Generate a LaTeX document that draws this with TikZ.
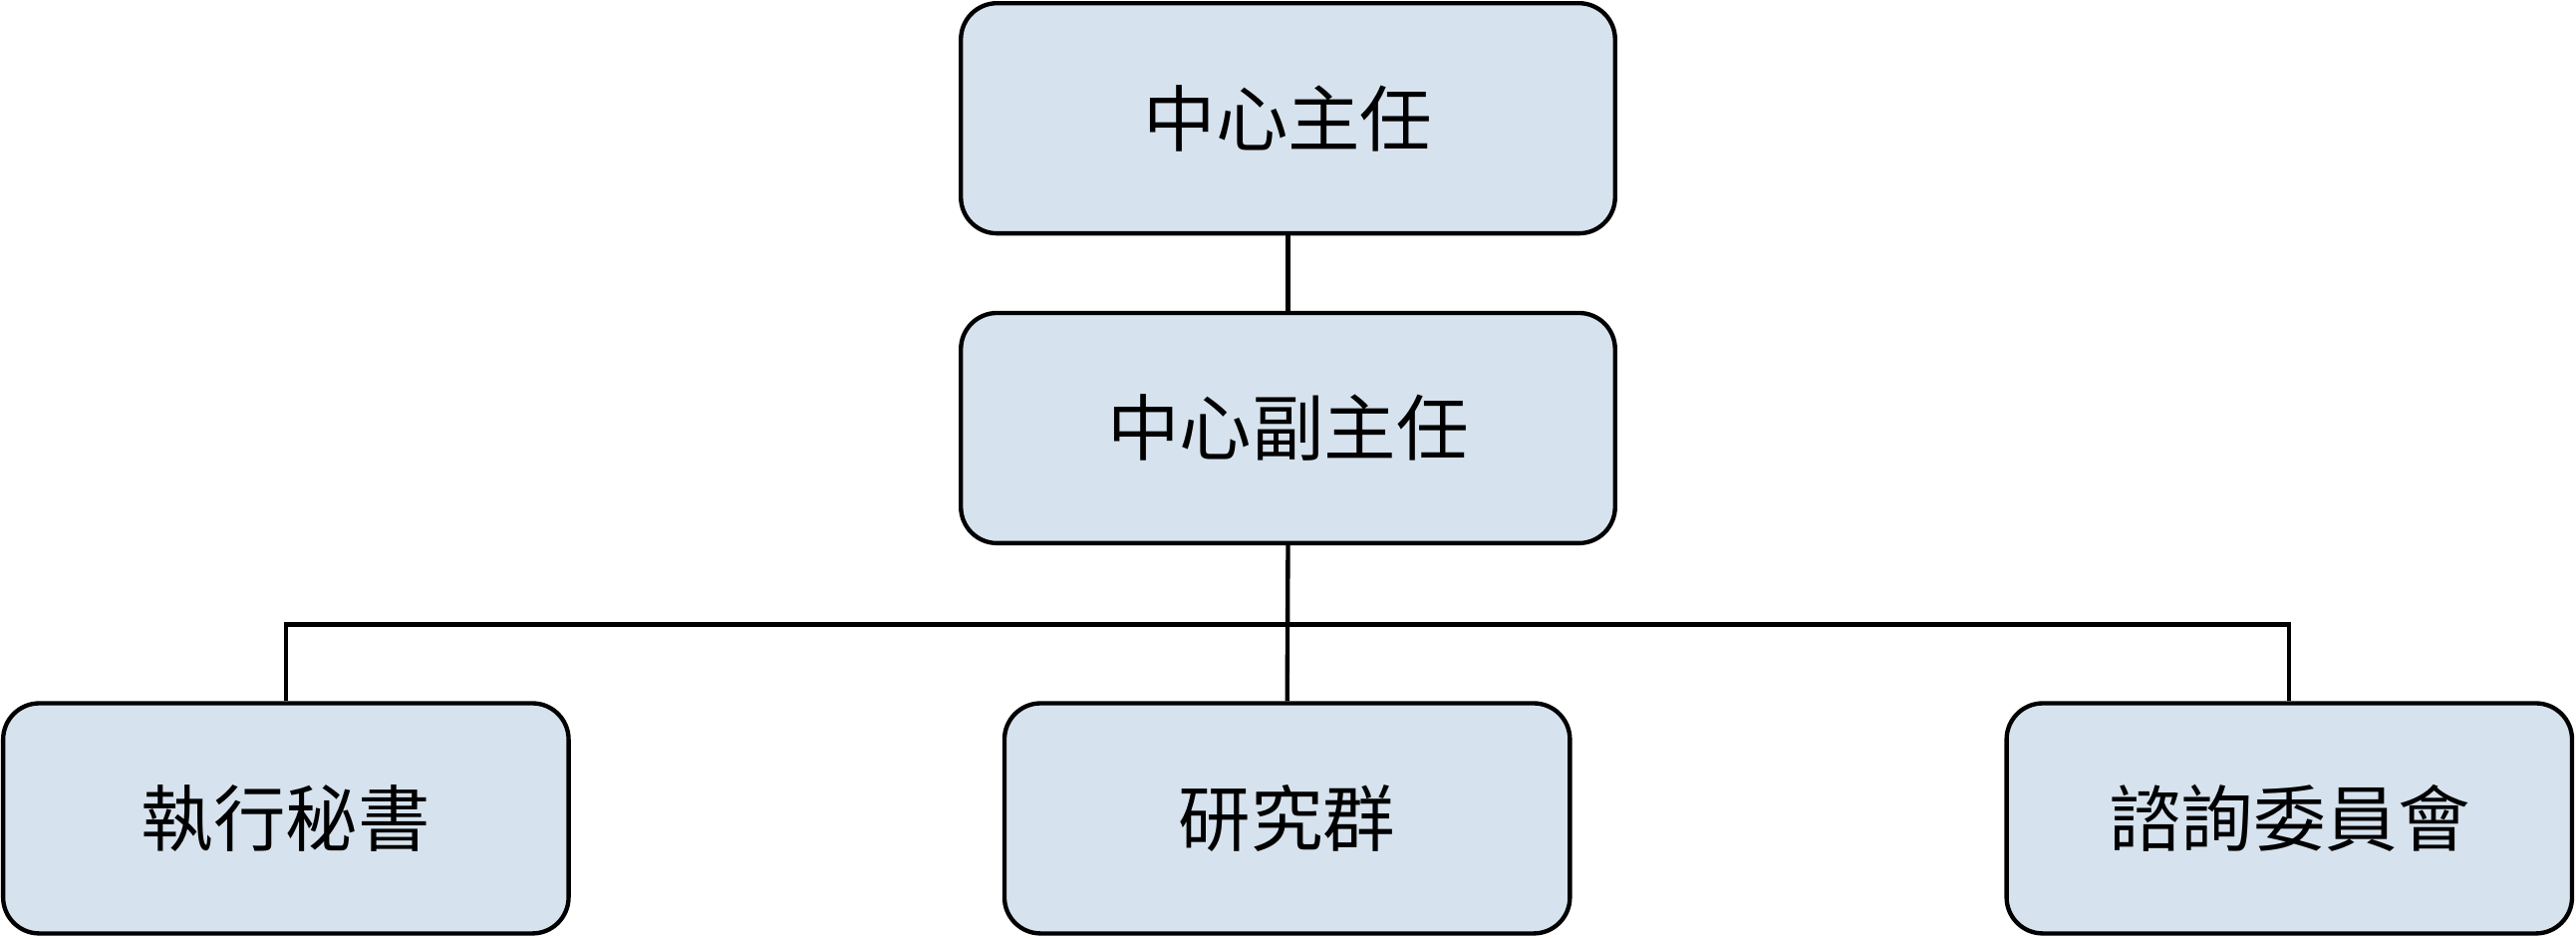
\documentclass[tikz,border=0pt]{standalone}
\usepackage{fontspec}
\newfontfamily\cjk{Noto Sans CJK TC}
\begin{document}
\begin{tikzpicture}[x=0.01cm,y=-0.01cm,
  box/.style={draw=black,line width=0.75pt,fill={rgb,255:red,214;green,226;blue,237},rounded corners=0.22cm,inner sep=0pt,font=\cjk\fontsize{12.5pt}{14pt}\selectfont},
  big/.style={box,minimum width=3.98cm,minimum height=1.40cm},
  small/.style={box,minimum width=3.44cm,minimum height=1.40cm},
  conn/.style={line width=0.75pt}]
\useasboundingbox (0,0) rectangle (1568,571);
\node[big] (a) at (784,72) {中心主任};
\node[big] (b) at (784,260.5) {中心副主任};
\node[small] (c) at (174,498) {執行秘書};
\node[small] (d) at (783.5,498) {研究群};
\node[small] (e) at (1393.5,498) {諮詢委員會};
\coordinate (j) at (784,380);
\draw[conn] (a) -- (b);
\draw[conn] (b.south) -- (d.north);
\draw[conn] (c.north) |- (j) -| (e.north);
\end{tikzpicture}
\end{document}
